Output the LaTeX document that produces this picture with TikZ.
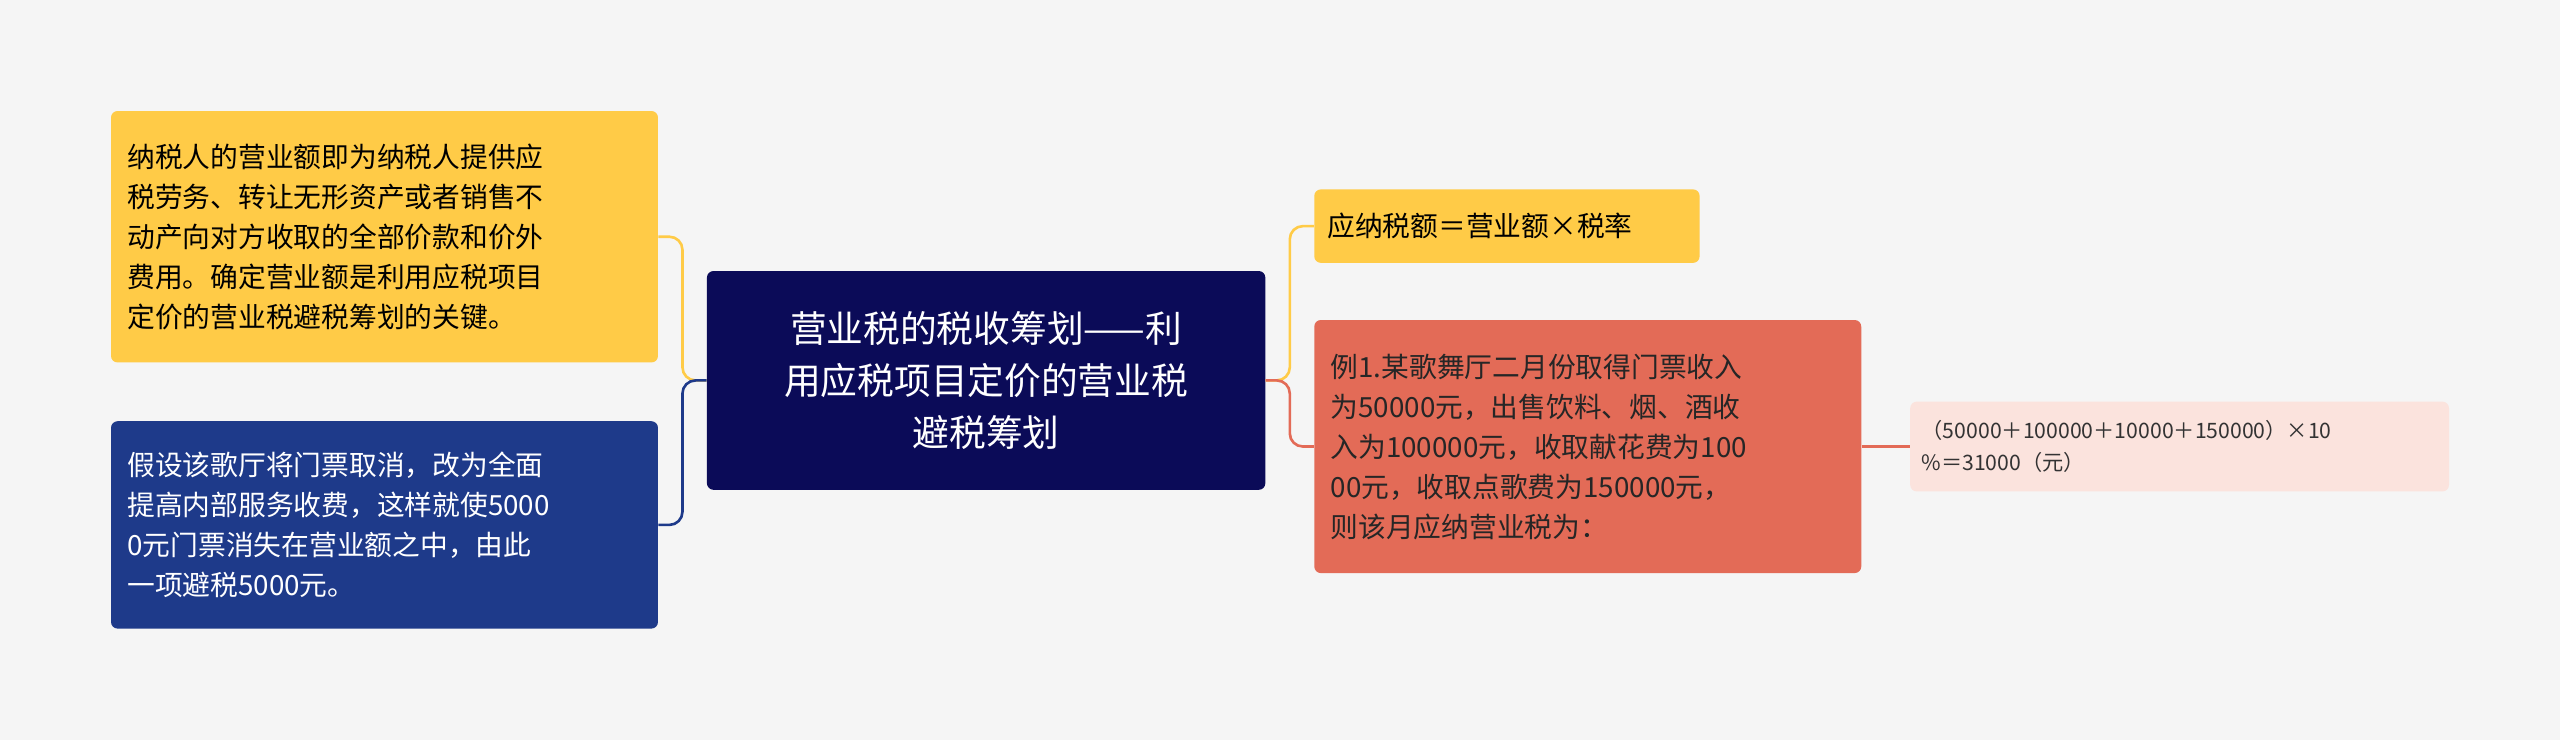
\documentclass[tikz,border=0pt]{standalone}
\usepackage{fontspec}
\setmainfont{Noto Sans CJK SC}
\begin{document}
\begin{tikzpicture}[x=1pt,y=-1pt,
  box/.style={rounded corners=4pt,inner sep=0pt,align=left},
  yel/.style={box,fill=yellowc,text=black},
  con/.style={line width=1.6pt,rounded corners=8pt}]
\definecolor{yellowc}{HTML}{FFCB47}
\definecolor{navyc}{HTML}{0B0B58}
\definecolor{bluec}{HTML}{1E3A8A}
\definecolor{redc}{HTML}{E36B57}
\definecolor{pinkc}{HTML}{FBE3DD}
\fill[fill={rgb,255:red,245;green,245;blue,245}] (0,0) rectangle (1568,453);
\useasboundingbox (0,0) rectangle (1568,453);
\node[box,fill=navyc,text=white,minimum width=342pt,minimum height=134pt,text width=310pt,align=center,font=\fontsize{22.5}{32}\selectfont] (c) at (604,233) {营业税的税收筹划——利\\用应税项目定价的营业税\\避税筹划};
\node[yel,minimum width=335pt,minimum height=154pt,text width=315pt,font=\fontsize{17}{24.5}\selectfont] (lt) at (235.5,145) {纳税人的营业额即为纳税人提供应\\税劳务、转让无形资产或者销售不\\动产向对方收取的全部价款和价外\\费用。确定营业额是利用应税项目\\定价的营业税避税筹划的关键。};
\node[box,fill=bluec,text=white,minimum width=335pt,minimum height=127pt,text width=315pt,font=\fontsize{17}{24.5}\selectfont] (lb) at (235.5,321.5) {假设该歌厅将门票取消，改为全面\\提高内部服务收费，这样就使5000\\0元门票消失在营业额之中，由此\\一项避税5000元。};
\node[yel,minimum width=236pt,minimum height=45pt,text width=220pt,font=\fontsize{17}{24.5}\selectfont] (rt) at (923,138.5) {应纳税额＝营业额×税率};
\node[box,fill=redc,text=black!85,minimum width=335pt,minimum height=155pt,text width=315pt,font=\fontsize{17}{24.5}\selectfont] (rm) at (972.5,273.5) {例1.某歌舞厅二月份取得门票收入\\为50000元，出售饮料、烟、酒收\\入为100000元，收取献花费为100\\00元，收取点歌费为150000元，\\则该月应纳营业税为：};
\node[box,fill=pinkc,text=black!80,minimum width=330pt,minimum height=55pt,text width=316pt,font=\fontsize{13}{20}\selectfont] (fr) at (1335,273.5) {（50000＋100000＋10000＋150000）×10\\\%＝31000（元）};
\draw[con,yellowc] (c.west) -- (418,233) |- (lt.east);
\draw[con,bluec] (c.west) -- (418,233) |- (lb.east);
\draw[con,yellowc] (c.east) -- (790,233) |- (rt.west);
\draw[con,redc] (c.east) -- (790,233) |- (rm.west);
\draw[line width=1.6pt,redc] (rm.east) -- (fr.west);
\end{tikzpicture}
\end{document}
